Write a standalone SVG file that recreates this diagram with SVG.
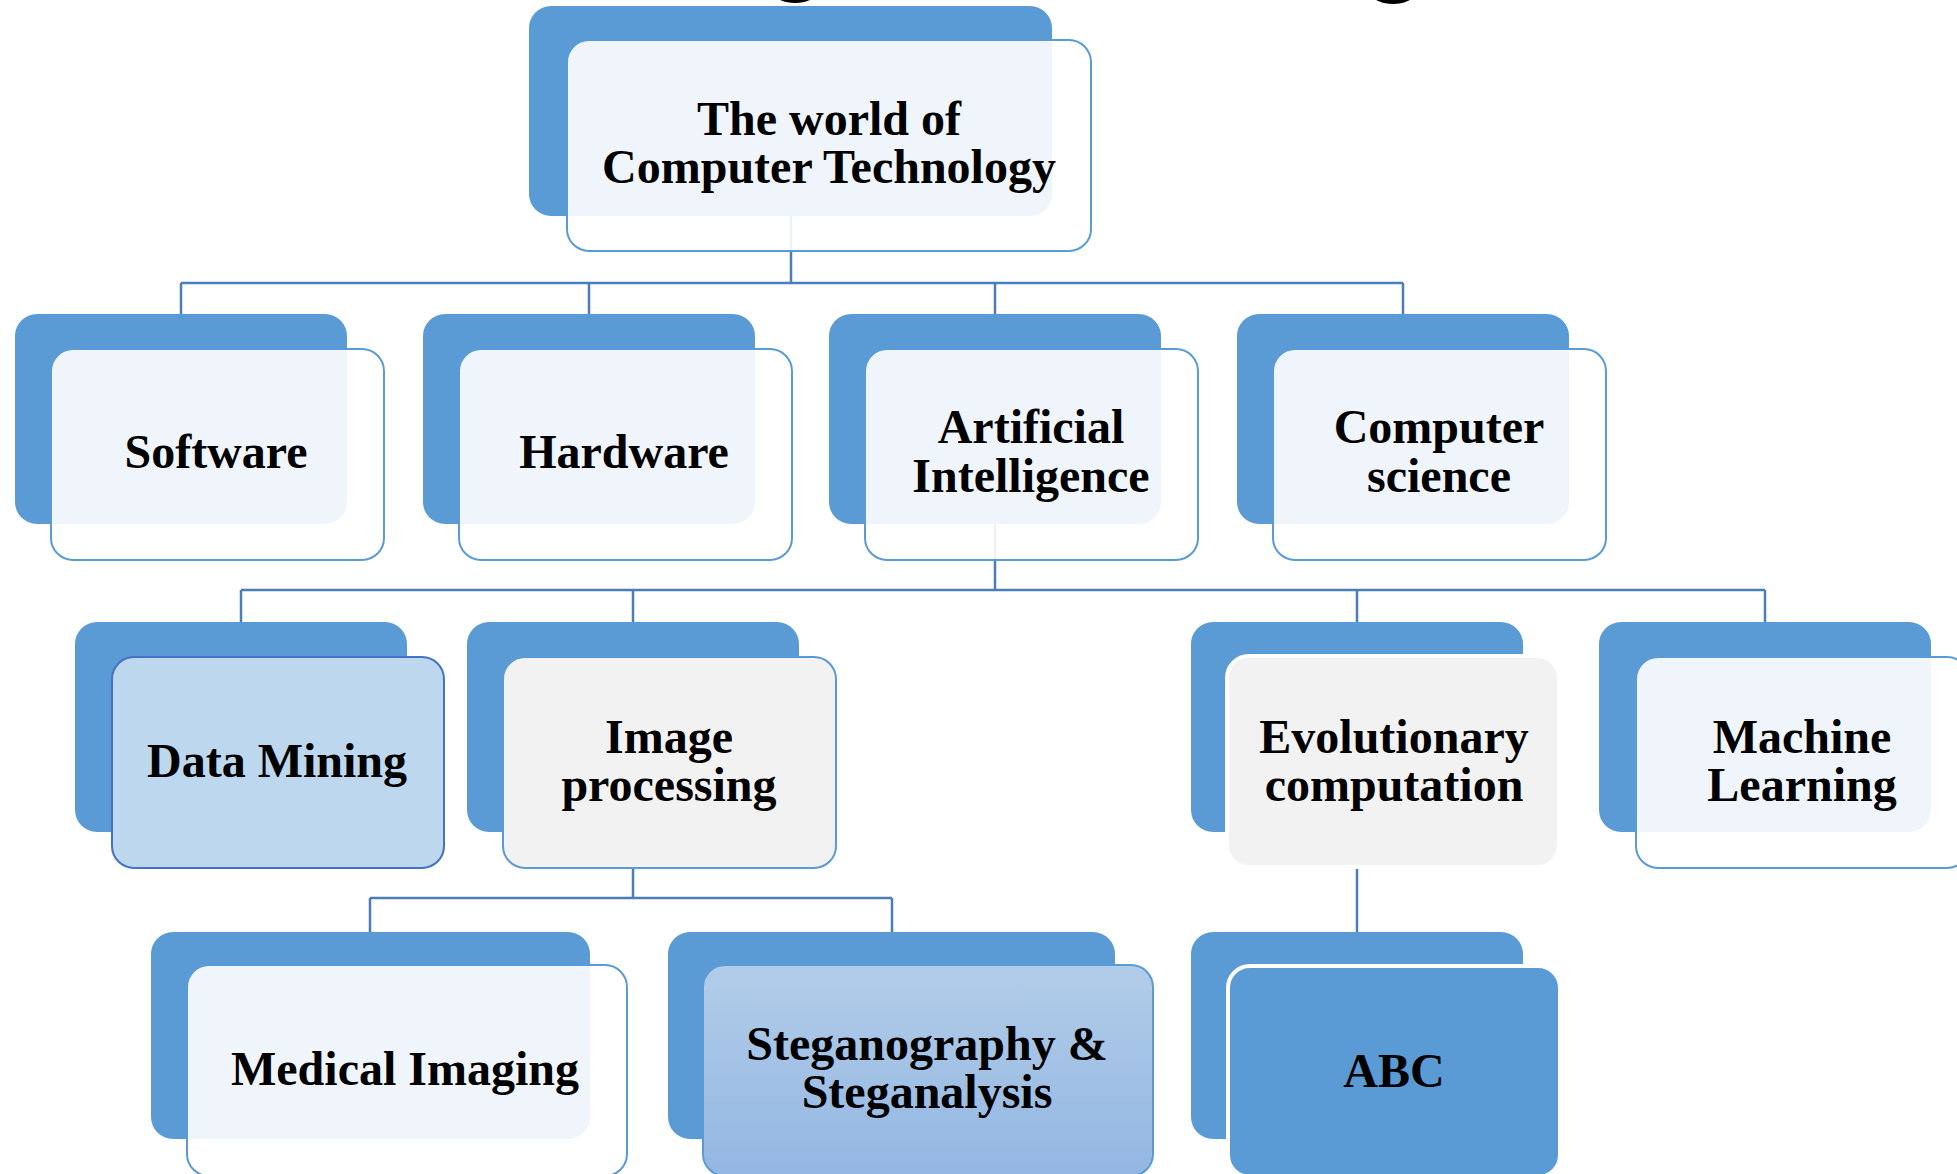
<svg xmlns="http://www.w3.org/2000/svg" width="1957" height="1174" viewBox="0 0 1957 1174">
  <style>
    .back { fill: #5B9BD5; }
    .front { fill: #FFFFFF; fill-opacity: 0.9; stroke: #5B9BD5; stroke-width: 2; }
    .front-blue { fill: #BDD7EE; stroke: #4472C4; stroke-width: 2; }
    .front-grey { fill: #F2F2F2; stroke: #5B9BD5; stroke-width: 2; }
    .front-grey-w { fill: #F2F2F2; stroke: #FFFFFF; stroke-width: 4; }
    .front-grad { fill: url(#stegFill); stroke: #5B9BD5; stroke-width: 2; }
    .front-solid { fill: #5B9BD5; stroke: #FFFFFF; stroke-width: 4; }
    .conn { fill: none; stroke: #4A7EBB; stroke-width: 2.5; }
    .lbl { font-family: "Liberation Serif", "Times New Roman", serif; font-weight: bold; font-size: 48px; text-anchor: middle; fill: #000000; }
  </style>
  <defs>
    <linearGradient id="stegFill" x1="0" y1="0" x2="0" y2="1">
      <stop offset="0" stop-color="#B2CDE9"/>
      <stop offset="1" stop-color="#93B6E2"/>
    </linearGradient>
  </defs>

  <rect width="1957" height="1174" fill="#FFFFFF"/>

  <!-- descenders of the heading line above, cut by the top edge -->
  <ellipse cx="795" cy="-6" rx="20" ry="9" fill="#000000"/>
  <ellipse cx="1393" cy="-5" rx="20" ry="9" fill="#000000"/>

  <!-- connectors -->
  <g id="connectors">
    <path class="conn" d="M791 216 V283 M181 283 H1403 M181 283 V314 M589 283 V314 M995 283 V314 M1403 283 V314"/>
    <path class="conn" d="M995 524 V590 M241 590 H1765 M241 590 V622 M633 590 V622 M1357 590 V622 M1765 590 V622"/>
    <path class="conn" d="M633 869 V898 M370 898 H892 M370 898 V932 M892 898 V932"/>
    <path class="conn" d="M1357 868 V932"/>
  </g>

  <!-- root -->
  <g id="node-root">
    <rect class="back" x="529" y="6" width="523" height="210" rx="22"/>
    <rect class="front" x="567" y="40" width="524" height="211" rx="22"/>
    <text class="lbl" x="829" y="135">The world of</text>
    <text class="lbl" x="829" y="183">Computer Technology</text>
  </g>

  <!-- level 1 -->
  <g id="node-software">
    <rect class="back" x="15" y="314" width="332" height="210" rx="22"/>
    <rect class="front" x="51" y="349" width="333" height="211" rx="22"/>
    <text class="lbl" x="216" y="468">Software</text>
  </g>
  <g id="node-hardware">
    <rect class="back" x="423" y="314" width="332" height="210" rx="22"/>
    <rect class="front" x="459" y="349" width="333" height="211" rx="22"/>
    <text class="lbl" x="624" y="468">Hardware</text>
  </g>
  <g id="node-ai">
    <rect class="back" x="829" y="314" width="332" height="210" rx="22"/>
    <rect class="front" x="865" y="349" width="333" height="211" rx="22"/>
    <text class="lbl" x="1031" y="443">Artificial</text>
    <text class="lbl" x="1031" y="492">Intelligence</text>
  </g>
  <g id="node-cs">
    <rect class="back" x="1237" y="314" width="332" height="210" rx="22"/>
    <rect class="front" x="1273" y="349" width="333" height="211" rx="22"/>
    <text class="lbl" x="1439" y="443">Computer</text>
    <text class="lbl" x="1439" y="492">science</text>
  </g>

  <!-- level 2 -->
  <g id="node-datamining">
    <rect class="back" x="75" y="622" width="332" height="210" rx="22"/>
    <rect class="front-blue" x="112" y="657" width="332" height="211" rx="22"/>
    <text class="lbl" x="277" y="777">Data Mining</text>
  </g>
  <g id="node-imageproc">
    <rect class="back" x="467" y="622" width="332" height="210" rx="22"/>
    <rect class="front-grey" x="503" y="657" width="333" height="211" rx="22"/>
    <text class="lbl" x="669" y="753">Image</text>
    <text class="lbl" x="669" y="801">processing</text>
  </g>
  <g id="node-evolutionary">
    <rect class="back" x="1191" y="622" width="332" height="210" rx="22"/>
    <rect class="front-grey-w" x="1227" y="656" width="332" height="211" rx="22"/>
    <text class="lbl" x="1394" y="753">Evolutionary</text>
    <text class="lbl" x="1394" y="801">computation</text>
  </g>
  <g id="node-ml">
    <rect class="back" x="1599" y="622" width="332" height="210" rx="22"/>
    <rect class="front" x="1636" y="657" width="333" height="211" rx="22"/>
    <text class="lbl" x="1802" y="753">Machine</text>
    <text class="lbl" x="1802" y="801">Learning</text>
  </g>

  <!-- level 3 -->
  <g id="node-medical">
    <rect class="back" x="151" y="932" width="439" height="207" rx="22"/>
    <rect class="front" x="187" y="965" width="440" height="211" rx="22"/>
    <text class="lbl" x="405" y="1085">Medical Imaging</text>
  </g>
  <g id="node-steg">
    <rect class="back" x="668" y="932" width="447" height="207" rx="22"/>
    <rect class="front-grad" x="703" y="965" width="450" height="211" rx="22"/>
    <text class="lbl" x="927" y="1060">Steganography &amp;</text>
    <text class="lbl" x="927" y="1108">Steganalysis</text>
  </g>
  <g id="node-abc">
    <rect class="back" x="1191" y="932" width="332" height="207" rx="22"/>
    <rect class="front-solid" x="1228" y="966" width="332" height="211" rx="22"/>
    <text class="lbl" x="1394" y="1087">ABC</text>
  </g>
</svg>
